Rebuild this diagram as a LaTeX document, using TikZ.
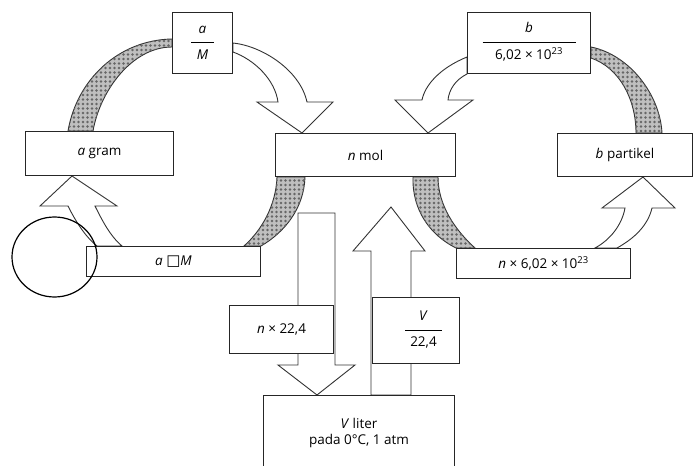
\documentclass[tikz,border=0pt]{standalone}
\usepackage{fontspec}
\setmainfont{Open Sans}
\newfontfamily\symf{DejaVu Sans}
\usetikzlibrary{calc,patterns,backgrounds}
\pgfdeclarepatternformonly{bigdots}{\pgfpoint{-1pt}{-1pt}}{\pgfpoint{5pt}{5pt}}{\pgfpoint{4.5pt}{4.5pt}}{\pgfpathcircle{\pgfpoint{2pt}{2pt}}{1.4pt}\pgfusepath{fill}}
\newcommand{\myfr}[3]{{\renewcommand{\arraystretch}{1}\begin{tabular}{@{}c@{}}#2\\[-3pt]\rule[3.5pt]{#1}{0.7pt}\\[-3pt]#3\end{tabular}}}
\tikzset{
  cbox/.style={draw=black!85, line width=1pt, fill=white, inner sep=0pt, anchor=north west},
  band/.style={draw=black!80, line width=0.9pt, fill=gray!50, postaction={pattern=bigdots, pattern color=black!60}},
  hollow/.style={draw=black!80, line width=0.9pt, fill=white, line join=miter},
}
\begin{document}
\begin{tikzpicture}[x=1pt, y=-1pt, font=\fontsize{13.5}{16}\selectfont]
\useasboundingbox (0,0) rectangle (694,466);
% boxes
\node[cbox, minimum width=60pt, minimum height=61pt] (aM) at (172,12) {\myfr{23pt}{\textit{a}}{\textit{M}}};
\node[cbox, minimum width=148pt, minimum height=44pt] (agram) at (25,131) {\textit{a} gram};
\node[cbox, minimum width=180pt, minimum height=43pt] (nmol) at (275,133) {\textit{n} mol};
\node[cbox, minimum width=123pt, minimum height=61pt] (bN) at (467,12) {\myfr{93pt}{\textit{b}}{6,02 × 10\textsuperscript{23}}};
\node[cbox, minimum width=135pt, minimum height=43pt] (bpart) at (557,133) {\textit{b} partikel};
\node[cbox, minimum width=174pt, minimum height=30pt] (axM) at (86,246) {\textit{a} {\symf\fontsize{15}{16}\selectfont □}\textit{M}};
\node[cbox, minimum width=104pt, minimum height=48pt] (nx) at (229,305) {\textit{n} × 22,4};
\node[cbox, minimum width=87pt, minimum height=66pt] (Vd) at (372,297) {\hspace*{15pt}\myfr{37pt}{\textit{V}}{22,4}};
\node[cbox, minimum width=191pt, minimum height=75pt, align=center] (Vl) at (263,395) {\textit{V} liter\\pada 0°C, 1 atm};
\node[cbox, minimum width=174pt, minimum height=30pt] (n6) at (456,248) {\textit{n} × 6,02 × 10\textsuperscript{23}};
% connectors
\begin{scope}[on background layer]
\fill[white] (0,0) rectangle (694,466);
% a gram -> a/M (band)
\draw[band] ($(agram.north west)+(43,0)$) .. controls (77,79) and (119,40) .. ($(aM.north west)+(0,27)$) -- ($(aM.north west)+(0,35)$) .. controls (132,47) and (100,91) .. ($(agram.north west)+(68,0)$) -- cycle;
% a/M -> n mol
\draw[hollow] ($(aM.north east)+(0,31)$) .. controls (262,46) and (300,70) .. (307,102) -- (333,102) -- ($(nmol.north west)+(27,0)$) -- (257,102) -- (278,102) .. controls (275,80) and (255,60) .. ($(aM.north east)+(0,40)$) -- cycle;
% n mol -> a x M (band)
\draw[band] ($(nmol.south west)+(2,0)$) .. controls (276,205) and (262,230) .. ($(axM.north east)+(-17,0)$) -- (axM.north east) .. controls (285,232) and (304,208) .. ($(nmol.south west)+(30,0)$) -- cycle;
% a x M -> a gram
\draw[hollow] ($(agram.south west)+(47,0)$) -- (117,206) -- (95,206) .. controls (102,220) and (110,236) .. ($(axM.north west)+(36,0)$) -- ($(axM.north west)+(11,0)$) .. controls (84.5,236) and (75,220) .. (68,206) -- (40,206) -- cycle;
% b/N -> n mol
\draw[hollow] ($(bN.north west)+(0,45)$) .. controls (440,68) and (425,85) .. (422,100) -- (395,100) -- ($(nmol.north east)+(-28,0)$) -- (473,100) -- (448,100) .. controls (449,90) and (455,80) .. (bN.south west) -- cycle;
% b partikel -> b/N (band)
\draw[band] ($(bN.north east)+(0,35)$) .. controls (630,55) and (660,95) .. ($(bpart.north west)+(105,0)$) -- ($(bpart.north west)+(79,0)$) .. controls (636,100) and (620,68) .. ($(bN.north east)+(0,46)$) -- cycle;
% n mol -> n x 6,02 (band)
\draw[band] ($(nmol.south east)+(-43,0)$) .. controls (412,210) and (430,235) .. (n6.north west) -- ($(n6.north west)+(19,0)$) .. controls (455,230) and (438,205) .. ($(nmol.south east)+(-18,0)$) -- cycle;
% n x 6,02 -> b partikel
\draw[hollow] ($(n6.north west)+(139,0)$) .. controls (610,240) and (622,225) .. (625,208) -- (602,208) -- ($(bpart.south west)+(86,0)$) -- (675,208) -- (652,208) .. controls (648,225) and (635,238) .. ($(n6.north west)+(161,0)$) -- cycle;
% n mol -> V liter
\draw[hollow] ($(nmol.south west)+(23,36)$) -- ($(nmol.south west)+(60,36)$) -- (335,365) -- (355,365) -- ($(Vl.north west)+(54,0)$) -- (278,365) -- (298,365) -- cycle;
% V liter -> n mol
\draw[hollow] ($(Vl.north west)+(108,0)$) -- (371,251) -- (353,251) -- ($(nmol.south east)+(-65,30)$) -- (425,251) -- (411,251) -- ($(Vl.north west)+(148,0)$) -- cycle;
\end{scope}
% circle mark
\draw[line width=1.2pt] (54.5,257) ellipse [x radius=42.5, y radius=40];
\end{tikzpicture}
\end{document}
